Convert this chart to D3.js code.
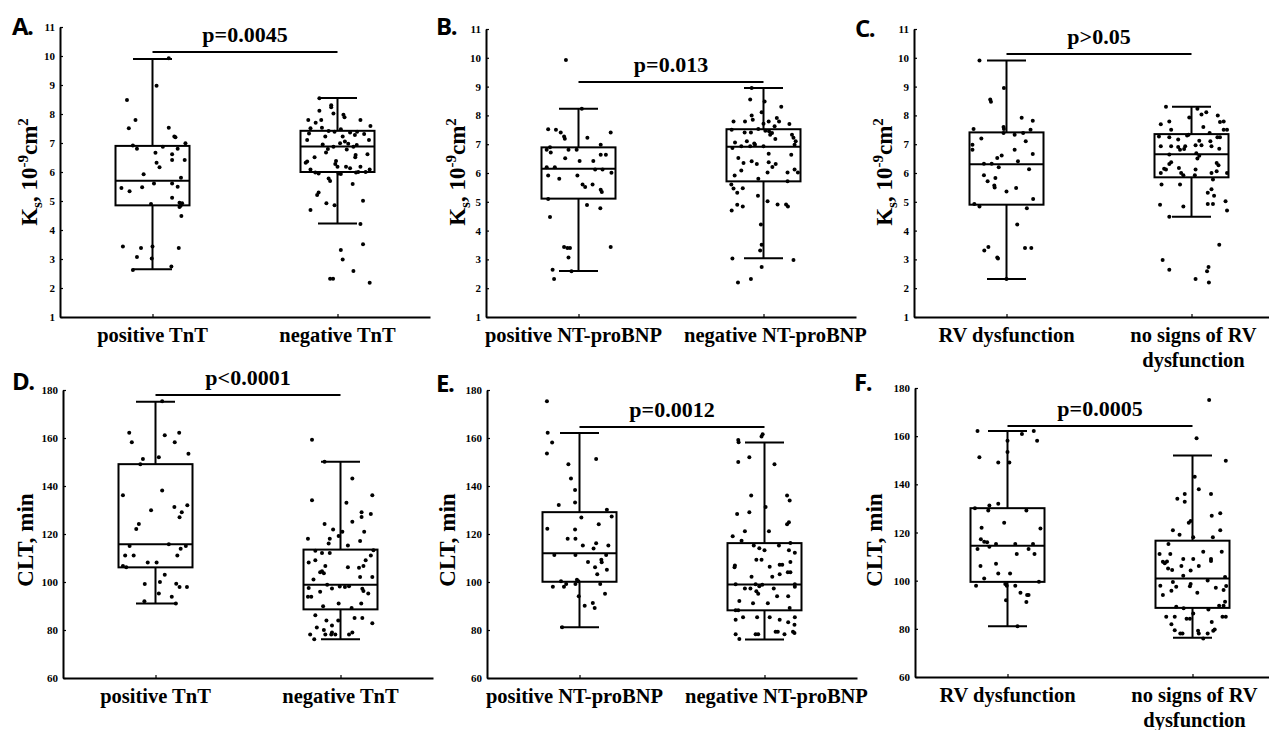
<!DOCTYPE html>
<html><head><meta charset="utf-8">
<script src="https://cdn.jsdelivr.net/npm/d3@7"></script>
<style>body{margin:0;background:#fff}svg{display:block}</style>
</head><body>
<svg id="chart" width="1269" height="730"></svg>
<script>
// ---------- DATA ----------
const catTnT = ["positive TnT", "negative TnT"];
const catBNP = ["positive NT-proBNP", "negative NT-proBNP"];
const catRV  = ["RV dysfunction", "no signs of RV\ndysfunction"];

const ksTicks  = [1,2,3,4,5,6,7,8,9,10,11];
const cltTicks = [60,80,100,120,140,160,180];

const pTexts  = ["p=0.0045","p=0.013","p>0.05","p<0.0001","p=0.0012","p=0.0005"];
const pLevels = [10.14, 9.16, 10.13, 177.9, 164.6, 164.2];

// box stats: [lower whisker, Q1, median, Q3, upper whisker]
const boxKsTnT  = [[2.65,4.85,5.7,6.9,9.9],[4.22,6.0,6.88,7.42,8.55]];
const boxKsBNP  = [[2.6,5.11,6.15,6.89,8.23],[3.04,5.71,6.91,7.52,8.95]];
const boxKsRV   = [[2.32,4.9,6.3,7.41,9.91],[4.48,5.85,6.65,7.35,8.3]];
const boxCltTnT = [[91,106.1,115.7,149.1,175.1],[76.1,88.6,98.9,113.5,150.1]];
const boxCltBNP = [[81.1,100.1,112.0,129.1,162.1],[76.0,88.2,99.0,116.2,158.1]];
const boxCltRV  = [[81.1,99.5,114.5,130.1,162.1],[76.3,88.7,100.9,116.6,152.0]];

// individual values (and their horizontal jitter, -1..1 of box half width)
const ksPosTnT = [9.92,8.97,8.48,7.79,7.51,7.53,7.22,7.2,6.99,6.91,6.80,6.87,6.80,6.66,6.61,6.32,6.16,6.41,6.41,5.92,5.80,5.60,5.60,5.45,5.34,5.47,5.49,5.11,4.90,4.94,4.84,4.92,4.79,4.48,3.43,3.38,3.43,3.38,3.07,3.02,2.62,2.74];
const ksPosTnTJ = [0.44,0.11,-0.69,-0.46,-0.64,0.44,0.59,0.62,0.89,-0.53,-0.42,0.28,0.68,0.08,0.53,0.11,0.19,0.53,0.87,-0.24,0.77,0.04,0.53,-0.84,-0.62,-0.28,0.68,0.53,-0.04,0.73,0.76,0.8,0.73,0.78,-0.8,-0.31,0,0.71,-0.42,-0.02,-0.53,0.51];
const ksNegTnT = [8.54,8.30,8.23,8.11,8.02,7.97,7.89,7.79,7.70,7.79,7.79,7.59,7.51,7.53,7.47,7.33,7.41,7.39,7.36,7.39,7.31,7.22,7.22,7.28,7.10,7.10,7.05,6.95,6.99,6.97,6.93,6.87,6.87,6.79,6.67,6.78,6.59,6.61,6.51,6.51,6.32,6.36,6.38,6.28,6.18,6.18,6.13,6.18,6.09,6.09,5.98,5.95,5.95,5.93,5.98,6.0,6.0,5.78,5.69,5.59,5.29,5.21,5.01,4.92,4.85,4.69,4.21,3.31,3.51,2.98,2.32,2.32,2.59,2.18];
const ksNegTnTJ = [-0.49,-0.17,-0.17,-0.49,-0.11,0.16,0.19,-0.79,-0.59,-0.44,0.62,0.89,-0.73,-0.42,0.09,-0.77,-0.24,-0.08,0.34,0.53,0.72,-0.33,0.14,0.47,-0.82,0.85,0.2,-0.4,0.07,0.29,0.52,-0.11,0.43,-0.26,-0.31,0.25,0.49,0.81,-0.62,0.48,-0.86,-0.82,-0.04,-0.06,0,0.23,0.34,0.62,-0.73,0.87,-0.6,-0.51,0.03,0.09,0.5,0.56,0.76,-0.24,-0.2,0.41,-0.51,-0.55,0.69,-0.3,-0.08,-0.73,0.62,0.09,0.69,0.14,-0.2,-0.12,0.43,0.87];

const ksPosBNP = [9.92,8.23,7.52,7.5,7.41,7.27,7.19,7.22,7.41,6.98,6.81,6.89,6.71,6.81,6.81,6.51,6.42,6.42,6.63,6.63,6.2,6.2,6.12,6.12,6.01,5.91,5.8,5.91,5.6,5.51,5.6,5.42,5.34,5.1,4.89,4.78,4.47,3.43,3.4,3.4,3.43,3.07,2.64,2.59,2.32];
const ksPosBNPJ = [-0.34,0.09,-0.82,-0.61,-0.48,-0.39,-0.37,0.24,0.87,0.6,-0.86,-0.77,-0.75,-0.27,-0.05,-0.36,0.03,0.4,0.6,0.74,-0.86,-0.64,0.45,0.65,0.89,-0.82,-0.52,-0.03,0.11,0.18,0.38,0.6,0.63,-0.82,0.23,0.59,-0.77,-0.39,-0.3,-0.23,0.87,-0.27,-0.7,-0.19,-0.66];
const ksNegBNP = [8.95,8.55,8.48,8.3,8.11,8.0,7.85,7.79,7.79,7.79,7.91,7.79,7.7,7.62,7.71,7.5,7.53,7.41,7.41,7.47,7.45,7.39,7.33,7.33,7.22,7.18,7.06,7.1,6.98,6.98,7.1,6.87,6.93,6.93,7.02,6.93,6.67,6.63,6.52,6.35,6.41,6.31,6.37,6.31,6.21,6.09,6.02,6.02,6.12,6.02,5.91,5.8,5.71,5.6,5.46,5.47,5.31,5.21,5.02,4.9,4.84,4.91,4.91,4.84,4.7,4.21,3.51,3.31,3.03,2.98,2.74,2.32,2.2];
const ksNegBNPJ = [-0.32,-0.36,0.03,0.48,-0.05,-0.32,-0.29,-0.81,-0.5,0.14,0.36,0.42,0.7,0.3,0,-0.86,-0.14,-0.51,-0.34,0.05,0.15,0.23,0.18,0.77,0.81,0.32,-0.77,-0.45,-0.23,0.84,0.87,-0.84,-0.6,-0.36,-0.25,0,0.14,0.75,-0.68,-0.54,-0.32,-0.18,0.14,0.33,0.24,-0.6,0.11,0.65,0.84,0.93,-0.78,-0.14,0.65,-0.87,-0.81,-0.56,-0.71,-0.15,0.11,-0.71,-0.56,0.38,0.61,0.66,-0.86,-0.07,-0.05,-0.09,-0.84,0.81,-0.05,-0.34,-0.69];

const ksRV = [9.91,8.95,8.55,8.47,7.92,7.81,7.53,7.6,7.53,7.5,7.39,7.33,7.39,7.2,7.1,6.98,6.81,6.81,6.66,6.61,6.52,6.41,6.32,6.32,6.2,6.13,5.92,5.83,5.71,5.57,5.5,5.48,5.36,5.1,4.92,4.84,4.78,4.21,3.43,3.31,3.4,3.4,3.07,3.03,2.32];
const ksRVJ = [-0.73,-0.07,-0.44,-0.42,0.41,0.71,-0.89,-0.08,-0.07,0.65,-0.08,0.22,0.45,-0.68,0.52,-0.92,-0.92,0.22,0.71,-0.13,-0.25,0.31,-0.61,-0.4,-0.21,0.61,-0.61,-0.3,-0.51,-0.33,-0.32,0.26,0,0.72,-0.87,-0.73,0.55,0.29,-0.49,-0.6,0.5,0.67,-0.25,-0.23,0];
const ksNoRV = [8.3,8.23,8.11,8.03,8.0,7.93,7.79,7.69,7.77,7.79,7.6,7.5,7.5,7.5,7.3,7.33,7.39,7.27,7.24,7.24,7.24,7.16,7.12,7.1,6.93,6.93,6.9,6.93,6.96,6.96,6.93,6.81,6.83,6.84,6.64,6.69,6.6,6.5,6.37,6.31,6.17,6.12,6.35,6.27,6.15,6.12,6.0,6.06,6.0,6.0,6.0,5.92,5.92,5.77,5.6,5.6,5.44,5.31,5.21,5.02,4.92,4.92,4.9,4.84,4.7,4.48,3.51,2.98,2.64,2.74,2.59,2.32,2.2];
const ksNoRVJ = [-0.69,0.16,0.4,0.27,0.71,-0.06,-0.6,-0.83,0.77,0.87,0.32,-0.55,0.87,0.96,-0.12,-0.08,0.49,-0.88,-0.6,0.7,0.77,-0.36,0.21,0.51,-0.83,-0.55,-0.36,-0.17,0.11,0.27,0.54,-0.31,-0.2,0.75,-0.6,0.13,0.21,0.16,-0.55,-0.6,-0.34,0.11,0.68,0.73,-0.74,-0.69,0.54,0.68,0.96,-0.83,-0.28,-0.22,0.09,0.58,-0.81,-0.31,0.54,0.44,0.61,0.92,0.44,0.58,-0.85,-0.22,0.96,-0.6,0.75,-0.78,-0.6,0.46,0.42,0.11,0.47];

const cltPosTnT = [175.3,162.2,158.2,161.1,162.2,158.2,153.4,151.2,149.1,152.0,136.1,138.1,129.9,131.2,132.0,129.1,127.0,124.2,122.1,115.0,115.7,115.0,111.0,111.0,113.9,111.0,108.1,108.1,106.7,106.1,103.0,99.2,100.0,99.3,97.9,97.9,95.2,93.9,92.0,91.0];
const cltPosTnTJ = [0.18,-0.71,-0.64,0.25,0.64,0.52,0.89,-0.34,-0.41,0.09,-0.88,0.18,-0.12,0.51,0.86,0.71,0.65,-0.45,-0.52,-0.7,0.36,0.82,-0.82,-0.59,0.68,0.59,-0.21,0.03,-0.88,-0.79,0.25,-0.29,0.12,0.56,0.65,0.85,0.09,0.44,-0.3,0.55];
const cltNegTnT = [159.3,150.1,143.1,134.1,136.1,133.0,129.1,127.1,128.3,125.1,124.2,121.9,120.9,120.9,119.2,118.0,118.0,117.1,116.0,115.2,113.0,112.1,112.1,113.2,111.0,109.1,108.1,109.1,105.9,106.7,106.1,106.7,104.5,103.6,104.1,102.1,102.1,101.0,97.5,98.9,97.3,98.1,97.9,98.2,97.2,96.3,95.2,95.9,93.9,93.9,91.0,89.9,89.2,91.0,86.1,84.0,84.0,85.0,85.0,82.8,81.9,81.0,80.0,78.1,78.1,79.0,78.1,78.1,79.0,78.1,76.1];
const cltNegTnTJ = [-0.77,-0.43,0.32,-0.77,0.86,0.16,0.57,0.57,0.82,0.32,-0.43,-0.2,0.05,0.64,-0.05,-0.88,-0.29,0.53,-0.32,0.2,-0.68,-0.5,-0.29,0.89,0.82,-0.68,-0.86,0.68,0.5,0.62,0.2,-0.41,-0.5,-0.45,-0.55,0.53,0.86,-0.73,-0.86,-0.36,-0.23,-0.02,0.12,0.23,0.59,0.62,0.75,-0.55,-0.88,-0.79,-0.05,-0.47,0.3,0.56,-0.68,-0.38,-0.06,0.38,0.59,0.86,-0.23,-0.64,-0.45,-0.82,-0.41,-0.23,-0.14,0.23,0.32,-0.25,-0.71];

const cltPosBNP = [175.3,162.2,158.1,153.5,151.3,149.1,143.1,138.3,133.1,132.1,126.9,130.1,127.3,124.1,122.2,121.9,118.0,118.0,115.2,116.1,115.2,114.0,111.2,111.2,111.2,108.3,109.3,108.2,106.1,105.1,103.2,100.3,100.9,100.3,99.2,99.2,98.0,98.0,99.2,95.1,94.1,90.1,91.2,89.2,81.1];
const cltPosBNPJ = [-0.88,-0.86,-0.74,-0.88,0.45,-0.3,-0.23,-0.12,-0.12,-0.56,0.05,0.74,0.87,0.52,-0.87,-0.12,-0.32,-0.11,0.09,0.45,0.78,0.38,-0.68,-0.11,0.72,0.23,0.59,0.6,0.42,0.74,0.48,-0.5,-0.07,-0.03,-0.11,0.56,-0.72,-0.42,-0.36,0.69,-0.02,0.14,0.36,0.41,-0.47];
const cltNegBNP = [161.6,160.6,159.2,158.2,152.0,150.0,149.1,136.0,136.0,134.0,131.2,129.1,128.3,124.9,124.1,121.1,121.1,119.1,117.2,115.2,115.2,116.2,114.1,113.2,113.2,112.2,109.3,109.3,108.3,106.9,106.1,106.4,107.2,107.2,104.1,104.1,103.2,102.2,102.2,99.1,99.1,98.2,98.9,98.0,99.1,97.3,97.3,97.3,96.1,95.1,94.1,94.1,92.1,91.1,91.1,88.2,88.2,89.2,85.3,85.3,85.3,85.3,84.3,84.3,83.2,82.2,79.3,79.3,79.3,78.8,78.2,78.2,78.2,78.2,76.3];
const cltNegBNPJ = [-0.05,-0.08,-0.71,-0.7,-0.41,-0.71,0.27,-0.36,0.61,0.68,0.03,-0.41,-0.74,0.66,0.61,-0.53,0.12,-0.86,-0.62,-0.29,0.39,0.7,-0.14,0,0.66,0.82,-0.22,-0.08,0.7,-0.8,-0.81,0.14,0.41,0.48,0.63,0.7,0.41,0.21,-0.35,-0.78,-0.24,-0.14,-0.06,0.82,0.82,-0.53,-0.38,0.25,-0.22,-0.17,0.34,0.64,-0.68,-0.31,0.09,-0.78,-0.71,0.68,-0.58,-0.2,0.14,0.82,-0.78,0.41,0.64,0.81,0.3,0.36,0.77,0.81,-0.78,-0.24,-0.17,0.54,-0.68];

const cltRV = [162.1,162.1,160.9,158.1,158.1,153.4,151.2,149.1,149.1,130.1,131.2,131.9,129.1,129.1,124.1,122.0,121.7,117.2,116.2,115.9,115.2,115.2,115.2,114.1,113.1,113.1,111.1,111.1,107.0,106.1,103.0,103.0,100.9,99.6,98.6,97.9,97.9,97.9,95.0,94.0,94.0,91.9,91.1,81.1];
const cltRVJ = [-0.81,0.71,0.39,0.8,0,0,-0.76,-0.25,0.05,-0.88,-0.49,-0.25,-0.52,0.51,-0.09,-0.7,0.89,-0.72,-0.63,-0.55,-0.31,0.21,0.69,-0.49,-0.81,0.57,0.25,0.73,-0.31,-0.73,-0.25,0.07,-0.63,0.85,-0.06,-0.85,-0.02,0.21,0.35,0.53,0.57,-0.04,0.51,0.27];
const cltNoRV = [175.0,159.1,149.8,143.1,138.0,136.0,134.0,132.8,136.0,128.0,127.0,124.1,124.8,120.9,120.9,119.1,118.0,118.0,115.2,111.1,111.1,112.0,112.0,109.0,109.0,109.0,108.2,107.9,107.2,108.0,105.1,104.4,106.1,104.2,106.1,102.0,99.4,97.7,98.6,100.1,101.5,97.8,97.1,96.1,97.9,97.5,95.8,94.0,95.0,91.2,89.6,89.6,89.2,88.5,88.0,85.0,85.0,84.2,84.2,86.4,85.0,85.0,81.9,82.8,79.4,78.1,78.1,79.2,78.1,78.1,79.2,79.7,76.0];
const cltNoRVJ = [0.45,0.11,0.9,0.06,0.17,-0.21,-0.41,-0.21,0.5,0.75,0.52,-0.1,-0.05,-0.53,0.75,-0.35,0.02,0.55,-0.65,-0.89,-0.6,0.29,0.79,-0.25,0.02,0.5,0.5,-0.8,-0.75,-0.69,-0.66,-0.55,-0.3,-0.05,0.17,-0.25,-0.53,-0.07,-0.05,0.41,0.88,0.91,0.63,0.84,-0.87,-0.44,-0.57,-0.8,0.13,0.88,0.84,0.72,-0.44,-0.24,0.43,-0.71,-0.48,-0.16,-0.07,0.02,0.81,0.9,-0.57,0.52,-0.48,-0.33,-0.27,0.15,0.17,0.41,0.56,0.6,0.29];

// ---------- PANEL DEFINITIONS (built from the arrays above) ----------
const panels = [
  {letter:"A.", cats:catTnT, ticks:ksTicks, title:"ks", box:boxKsTnT, vals:[ksPosTnT,ksNegTnT], jit:[ksPosTnTJ,ksNegTnTJ], p:pTexts[0], pl:pLevels[0]},
  {letter:"B.", cats:catBNP, ticks:ksTicks, title:"ks", box:boxKsBNP, vals:[ksPosBNP,ksNegBNP], jit:[ksPosBNPJ,ksNegBNPJ], p:pTexts[1], pl:pLevels[1]},
  {letter:"C.", cats:catRV,  ticks:ksTicks, title:"ks", box:boxKsRV,  vals:[ksRV,ksNoRV],       jit:[ksRVJ,ksNoRVJ],       p:pTexts[2], pl:pLevels[2]},
  {letter:"D.", cats:catTnT, ticks:cltTicks, title:"clt", box:boxCltTnT, vals:[cltPosTnT,cltNegTnT], jit:[cltPosTnTJ,cltNegTnTJ], p:pTexts[3], pl:pLevels[3]},
  {letter:"E.", cats:catBNP, ticks:cltTicks, title:"clt", box:boxCltBNP, vals:[cltPosBNP,cltNegBNP], jit:[cltPosBNPJ,cltNegBNPJ], p:pTexts[4], pl:pLevels[4]},
  {letter:"F.", cats:catRV,  ticks:cltTicks, title:"clt", box:boxCltRV,  vals:[cltRV,cltNoRV],       jit:[cltRVJ,cltNoRVJ],       p:pTexts[5], pl:pLevels[5]}
];

// ---------- LAYOUT ----------
const layout = [
  {x0:60,  top:27,  bottom:317, lx:12,  ly:35,  tx:37,  tyc:172, ldx:[0,0]},
  {x0:486, top:29,  bottom:317, lx:436, ly:35,  tx:465, tyc:172, ldx:[-5,12]},
  {x0:914, top:29,  bottom:317, lx:855, ly:37,  tx:892, tyc:172, ldx:[0,2]},
  {x0:63,  top:390, bottom:678, lx:12,  ly:390, tx:33,  tyc:540, ldx:[0,0]},
  {x0:487, top:390, bottom:678, lx:436, ly:392, tx:455, tyc:540, ldx:[-5,12]},
  {x0:915, top:388, bottom:677, lx:854, ly:391, tx:882, tyc:540, ldx:[0,2]}
];
const AXLEN = 370, HALF = 37, CAP = 19.5;
const SERIF = "'Liberation Serif','Times New Roman',serif";

const svg = d3.select("#chart");
svg.append("rect").attr("width",1269).attr("height",730).attr("fill","#fff");

panels.forEach((cfg, i) => {
  const L = layout[i];
  const g = svg.append("g");
  const y = d3.scaleLinear().domain([cfg.ticks[0], cfg.ticks[cfg.ticks.length-1]]).range([L.bottom, L.top]);
  const x = d3.scalePoint().domain(cfg.cats).range([L.x0, L.x0 + AXLEN]).padding(0.5);
  const jx = d3.scaleLinear().domain([-1, 1]).range([-HALF, HALF]);

  // y axis
  const ya = g.append("g").attr("transform", `translate(${L.x0},0)`)
    .call(d3.axisLeft(y).tickValues(cfg.ticks).tickSizeInner(-3).tickSizeOuter(0).tickPadding(5));
  ya.select(".domain").attr("stroke-width", 2);
  ya.selectAll(".tick line").attr("stroke-width", 1.2);
  ya.selectAll(".tick text").attr("font-family", SERIF).attr("font-weight", "bold").attr("font-size", 11).attr("fill","#000");

  // x axis
  const xa = g.append("g").attr("transform", `translate(0,${L.bottom})`)
    .call(d3.axisBottom(x).tickSizeInner(-3).tickSizeOuter(0).tickFormat(""));
  xa.select(".domain").attr("stroke-width", 2);
  xa.selectAll(".tick line").attr("stroke-width", 1.2);

  // category labels
  cfg.cats.forEach((c, k) => {
    const lines = c.split("\n");
    const t = g.append("text").attr("text-anchor","middle")
      .attr("font-family", SERIF).attr("font-weight","bold").attr("font-size", 20.5);
    lines.forEach((ln, m) => {
      t.append("tspan").attr("x", x(c) + L.ldx[k]).attr("y", L.bottom + 25 + m * 25).text(ln);
    });
  });

  // y title
  const tt = g.append("text").attr("text-anchor","middle")
    .attr("transform", `translate(${L.tx},${L.tyc}) rotate(-90)`)
    .attr("font-family", SERIF).attr("font-weight","bold").attr("font-size", 23);
  if (cfg.title === "ks") {
    tt.append("tspan").text("K");
    tt.append("tspan").attr("font-size", 15).attr("dy", 5).text("s");
    tt.append("tspan").attr("dy", -5).text(", 10");
    tt.append("tspan").attr("font-size", 15).attr("dy", -9).text("-9");
    tt.append("tspan").attr("dy", 9).text("cm");
    tt.append("tspan").attr("font-size", 15).attr("dy", -9).text("2");
  } else {
    tt.text("CLT, min");
  }

  // panel letter
  g.append("text").attr("x", L.lx).attr("y", L.ly)
    .attr("font-family", "'Open Sans','Liberation Sans',sans-serif").attr("font-weight", 700)
    .attr("font-size", 24).attr("letter-spacing", -1.5).text(cfg.letter);

  // boxes and whiskers
  cfg.cats.forEach((c, k) => {
    const [lo, q1, med, q3, hi] = cfg.box[k];
    const cx = x(c);
    const bg = g.append("g").attr("stroke","#000").attr("stroke-width",2).attr("fill","none");
    bg.append("line").attr("x1",cx).attr("x2",cx).attr("y1",y(hi)).attr("y2",y(q3));
    bg.append("line").attr("x1",cx).attr("x2",cx).attr("y1",y(q1)).attr("y2",y(lo));
    bg.append("line").attr("x1",cx-CAP).attr("x2",cx+CAP).attr("y1",y(hi)).attr("y2",y(hi));
    bg.append("line").attr("x1",cx-CAP).attr("x2",cx+CAP).attr("y1",y(lo)).attr("y2",y(lo));
    bg.append("rect").attr("x",cx-HALF).attr("width",2*HALF).attr("y",y(q3)).attr("height",y(q1)-y(q3));
    bg.append("line").attr("x1",cx-HALF).attr("x2",cx+HALF).attr("y1",y(med)).attr("y2",y(med));

    // points
    const pts = cfg.vals[k].map((v, m) => ({v, j: cfg.jit[k][m]}));
    g.selectAll(null).data(pts).enter().append("circle")
      .attr("cx", d => cx + jx(d.j)).attr("cy", d => y(d.v)).attr("r", 2).attr("fill","#000");
  });

  // significance bar
  const x1 = x(cfg.cats[0]), x2 = x(cfg.cats[1]);
  g.append("line").attr("x1",x1).attr("x2",x2).attr("y1",y(cfg.pl)).attr("y2",y(cfg.pl))
    .attr("stroke","#000").attr("stroke-width",2);
  g.append("text").attr("x",(x1+x2)/2).attr("y",y(cfg.pl)-10).attr("text-anchor","middle")
    .attr("font-family", SERIF).attr("font-weight","bold").attr("font-size", 22).text(cfg.p);
});
</script>
</body></html>
